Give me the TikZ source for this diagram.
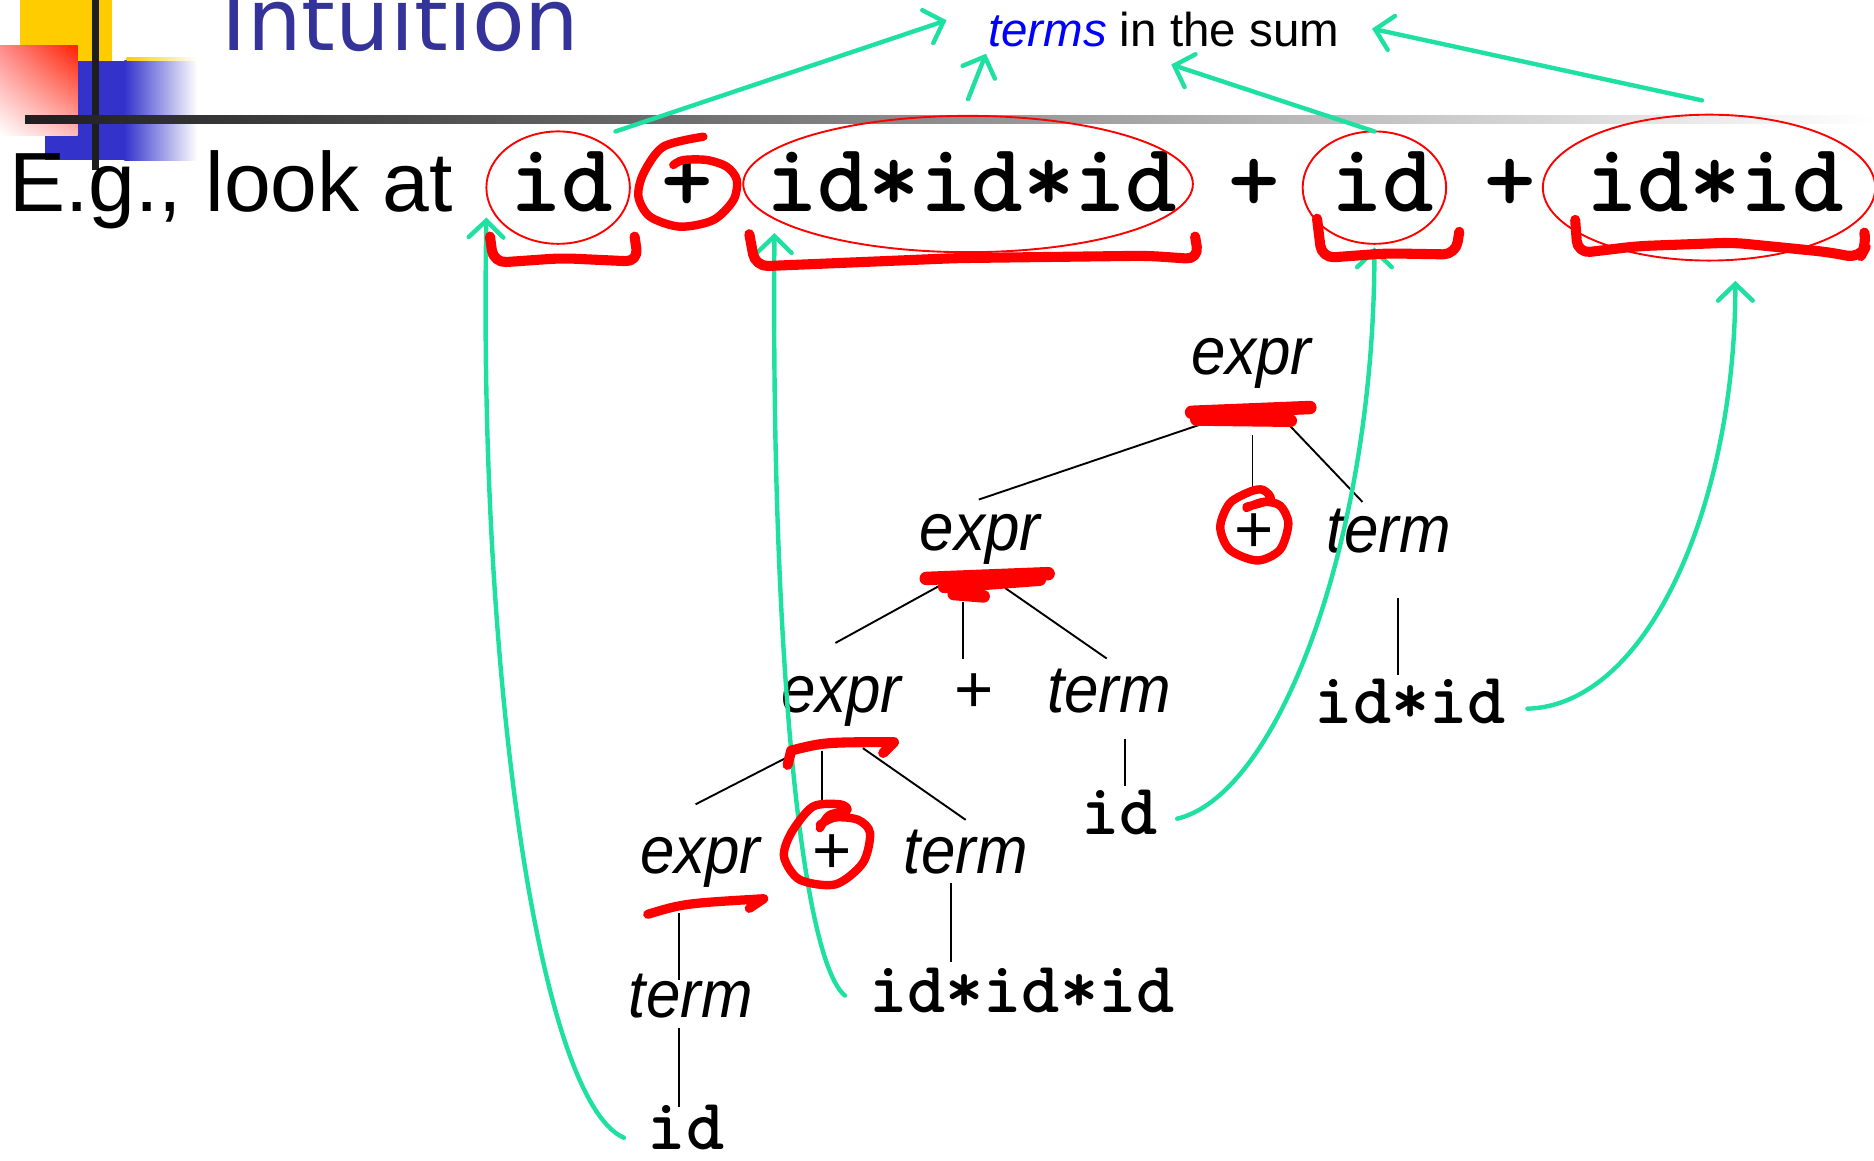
\documentclass[tikz,border=0pt]{standalone}
\usepackage{fontspec}
\setmainfont{Liberation Sans}
\newfontfamily\treeit[FakeStretch=0.92]{Liberation Sans}
\newfontfamily\titlefont{DejaVu Sans}
\usetikzlibrary{arrows.meta,calc,shapes.geometric,shadings}
\definecolor{mint}{RGB}{30,224,160}
\definecolor{titleblue}{RGB}{51,51,153}
\definecolor{sqblue}{RGB}{51,51,204}
\definecolor{sqyellow}{RGB}{255,204,0}
\definecolor{sqred}{RGB}{255,32,0}
\definecolor{sqpinkA}{RGB}{255,140,140}
\definecolor{sqpinkB}{RGB}{255,185,185}
\definecolor{barline}{RGB}{30,30,30}
\begin{document}
\begin{tikzpicture}[x=0.01cm,y=-0.01cm,
  treelbl/.style={anchor=base,inner sep=0pt,font=\treeit\itshape\fontsize{16}{18}\selectfont},
  treemono/.style={anchor=base,inner sep=0pt,font=\ttfamily\bfseries\fontsize{17.3}{20}\selectfont},
  treeplus/.style={anchor=base,inner sep=0pt,font=\fontsize{16}{18}\selectfont},
  topmono/.style={anchor=base,inner sep=0pt,font=\ttfamily\bfseries\fontsize{23.3}{26}\selectfont},
  treeedge/.style={draw=black,line width=0.45pt},
  grn/.style={draw=mint,line width=1.05pt,line cap=round,-{Straight Barb[length=1.4mm,width=2.9mm,line cap=round]}},
  ring/.style={ellipse,draw=red,line width=0.45pt,inner sep=0pt},
  pen/.style={draw=red,line width=2pt,line cap=round,line join=round},
  brk/.style={draw=red,line width=2.4pt,line cap=round,line join=round,rounded corners=3pt},
  blob/.style={draw=red,line width=3.2pt,line cap=round,line join=round}
]
\useasboundingbox (0,0) rectangle (1568,971);
\clip (0,0) rectangle (1568,971);

% --- slide decoration ---
\fill[sqyellow] (17,0) rectangle (94,51);
\fill[sqblue] (38,51) rectangle (104.5,134);
\shade[left color=sqblue,right color=white] (104,51) rectangle (165,134);
\shade[left color=sqyellow,right color=white] (106,48.5) rectangle (165,51);
\shade[upper right=sqred,upper left=sqpinkA,lower left=white,lower right=sqpinkB] (0,38) rectangle (65,113);
\fill[barline] (77,0) rectangle (83,142);
\shade[left color=barline,middle color=black!35,right color=white] (21,97) rectangle (1568,103);

\node[anchor=base west,inner sep=0pt,font=\titlefont\fontsize{20.5}{24}\selectfont,text=titleblue] (title) at (185,42) {Intuition};

% --- top line ---
\node[anchor=base west,inner sep=0pt,font=\fontsize{20}{24}\selectfont] (eg) at (7,177) {E.g., look at};
\node[topmono] (t1) at (470,177) {id};
\node[topmono] (tp1) at (575,177) {+};
\node[topmono] (t2) at (813,177) {id*id*id};
\node[topmono] (tp2) at (1049,177) {+};
\node[topmono] (t3) at (1157,177) {id};
\node[topmono] (tp3) at (1264,177) {+};
\node[topmono] (t4) at (1435,177) {id*id};

\node[ring,minimum width=1.2cm,minimum height=0.94cm] (e1) at (467,157) {};
\node[ring,minimum width=3.76cm,minimum height=1.14cm] (e2) at (810,154) {};
\node[ring,minimum width=1.2cm,minimum height=0.94cm] (e3) at (1150,157) {};
\node[ring,minimum width=2.78cm,minimum height=1.22cm] (e4) at (1430,157) {};

\node[anchor=base west,inner sep=0pt,font=\fontsize{11.3}{14}\selectfont] (sum) at (826,39) {\textcolor{blue}{\itshape terms} in the sum};

% --- tree ---
\node[treelbl] (root) at (1047,313) {expr};
\node[treelbl] (l2e) at (820,461) {expr};
\node[treeplus] (l2p) at (1049,462) {+};
\node[treelbl] (l2t) at (1162,462) {term};
\node[treelbl] (l3e) at (704,596) {expr};
\node[treeplus] (l3p) at (815,596) {+};
\node[treelbl] (l3t) at (928,596) {term};
\node[treemono] (l3id) at (1180,605) {id*id};
\node[treelbl] (l4e) at (586,731) {expr};
\node[treeplus] (l4p) at (696,731) {+};
\node[treelbl] (l4t) at (808,731) {term};
\node[treemono] (l4id) at (937,698) {id};
\node[treelbl] (l5t) at (578,851) {term};
\node[treemono] (l5id) at (855,847) {id*id*id};
\node[treemono] (l6id) at (574,962) {id};

\draw[treeedge] ($(root.base)+(-36,40)$) -- ($(l2e.base)+(-1,-43)$);
\draw[treeedge] ($(root.base)+(1,51)$) -- ($(l2p.base)+(-1,-54)$);
\draw[treeedge] ($(root.base)+(32,43)$) -- ($(l2t.base)+(-22,-42)$);
\draw[treeedge] ($(l2e.base)+(-30,27)$) -- ($(l3e.base)+(-5,-58)$);
\draw[treeedge] ($(l2e.base)+(-14,43)$) -- ($(l3p.base)+(-9,-45)$);
\draw[treeedge] ($(l2e.base)+(21,31)$) -- ($(l3t.base)+(-2,-45)$);
\draw[treeedge] ($(l2t.base)+(8,38)$) -- ($(l3id.base)+(-10,-40)$);
\draw[treeedge] ($(l3e.base)+(-46,38)$) -- ($(l4e.base)+(-4,-58)$);
\draw[treeedge] ($(l3e.base)+(-16,32)$) -- ($(l4p.base)+(-8,-56)$);
\draw[treeedge] ($(l3e.base)+(18,30)$) -- ($(l4t.base)+(0,-45)$);
\draw[treeedge] ($(l3t.base)+(13,22)$) -- ($(l4id.base)+(4,-40)$);
\draw[treeedge] ($(l4e.base)+(-18,33)$) -- ($(l5t.base)+(-10,-31)$);
\draw[treeedge] ($(l4t.base)+(-12,8)$) -- ($(l5id.base)+(-59,-42)$);
\draw[treeedge] ($(l5t.base)+(-10,9)$) -- ($(l6id.base)+(-6,-36)$);

% --- green arrows ---
\draw[grn] ($(e1.center)+(48,-47)$) -- ($(sum.base west)+(-34,-22)$);
\draw[grn] ($(e2.center)+(0,-71)$) -- ($(sum.base west)+(-1,6)$);
\draw[grn] ($(e3.center)+(0,-47)$) -- ($(sum.base west)+(154,15)$);
\draw[grn] ($(e4.center)+(-6,-73)$) -- ($(sum.base west)+(322,-15)$);

\draw[grn] ($(l6id.base)+(-52,-10)$) .. controls (450,920) and (400,560) .. ($(t1.base)+(-63,5)$);
\draw[grn] ($(l5id.base)+(-148,-14)$) .. controls (672,805) and (645,560) .. ($(t2.base)+(-165,18)$);
\draw[grn] ($(l4id.base)+(48,-13)$) .. controls (1070,665) and (1150,450) .. ($(t3.base)+(-7,30)$);
\draw[grn] ($(l3id.base)+(98,-12)$) .. controls (1380,590) and (1452,420) .. ($(t4.base)+(17,58)$);

% --- red annotations ---
\draw[pen] plot[smooth] coordinates {(588.5,114.4) (555.1,122.7) (538.4,145.1) (534.2,164.6) (543.9,181.3) (569,189.7) (596.9,184.1) (613.7,167.4) (616.5,150.6) (608.1,139.5) (591.4,133.9) (571.8,133.9) (563.4,138.1)};

\draw[brk] (410,198) -- (413,220) -- (470,216) -- (534,219) -- (531,198);
\draw[brk] (627,196) -- (632,223) -- (800,216) -- (960,214) -- (1003,217) -- (1000,198);
\draw[brk] (1102,183) -- (1106,216) -- (1160,212) -- (1218,213) -- (1221,194);
\draw[brk] (1318,184) -- (1320,212) -- (1370,206) -- (1450,203) -- (1530,211) -- (1556,216) -- (1562,205) -- (1560,195);

% tree highlights
\draw[blob] (997,345) -- (1096,341);
\draw[blob,line width=3pt] (1001,351) -- (1080,352);
\draw[blob] (775,484) -- (877,480);
\draw[blob,line width=3pt] (790,491) -- (870,485);
\draw[blob,line width=3pt] (798,497) -- (823,499);
\draw[blob,line width=2.4pt] (659,640) -- (662,628) .. controls (690,621) .. (748,621) -- (739,630);
\draw[blob,line width=2.2pt] (542,765) .. controls (572,756) .. (639,752) -- (627,760);

\draw[pen] plot[smooth] coordinates {(1043,424) (1063,418) (1057,410) (1047,411) (1029,421) (1021,441) (1029,460) (1052,469) (1071,460) (1078,438) (1071,423) (1057,420) (1043,425)};
\draw[pen] plot[smooth] coordinates {(686,693) (694,682) (709,678) (703,673) (680,675) (662,697) (656,717) (669,736) (699,740) (722,722) (728,697) (718,686) (699,684) (686,690)};
\end{tikzpicture}
\end{document}
